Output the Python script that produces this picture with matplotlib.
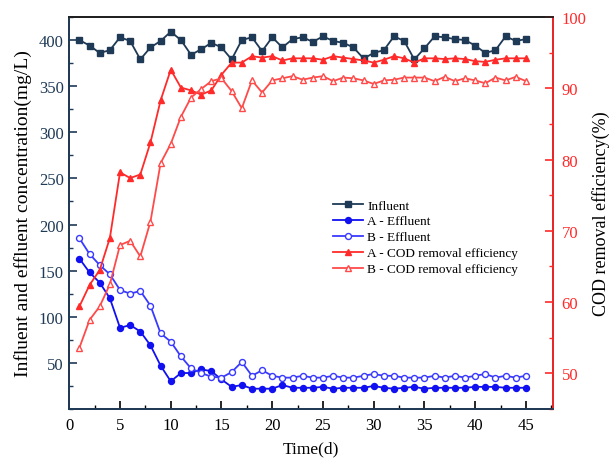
import matplotlib
matplotlib.use("Agg")
import matplotlib.pyplot as plt
from matplotlib.ticker import MultipleLocator

plt.rcParams['font.family'] = ['Liberation Serif', 'DejaVu Serif']

days = list(range(1, 46))

influent = [400, 394, 386, 389, 403, 399, 379, 392, 399, 409,
            400, 384, 390, 397, 392, 379, 400, 403, 388, 403,
            392, 401, 403, 398, 404, 399, 397, 392, 380, 386,
            389, 404, 399, 379, 391, 404, 403, 401, 400, 394,
            386, 389, 404, 399, 401]

a_effluent = [163, 148, 137, 120, 88, 91, 84, 69, 47, 30,
              39, 39, 43, 41, 32, 24, 26, 22, 22, 22,
              26, 23, 23, 23, 24, 22, 23, 23, 23, 25,
              23, 22, 23, 24, 22, 23, 23, 23, 23, 24,
              24, 24, 23, 23, 23]

b_effluent = [185, 168, 156, 146, 129, 125, 128, 112, 82, 73,
              57, 44, 39, 35, 34, 40, 51, 36, 42, 36,
              34, 34, 36, 34, 34, 36, 34, 34, 36, 38,
              36, 36, 34, 34, 34, 36, 34, 36, 34, 36,
              38, 34, 36, 34, 36]

a_cod = [59.4, 62.4, 64.5, 69.0, 78.2, 77.4, 77.9, 82.4, 88.3, 92.6,
         90.1, 89.7, 89.1, 89.7, 91.9, 93.6, 93.6, 94.5, 94.3, 94.5,
         93.9, 94.2, 94.2, 94.2, 94.0, 94.5, 94.3, 94.1, 93.9, 93.6,
         94.0, 94.5, 94.2, 93.6, 94.2, 94.2, 94.1, 94.2, 94.1, 93.8,
         93.7, 94.0, 94.2, 94.2, 94.2]

b_cod = [53.6, 57.5, 59.4, 62.5, 68.0, 68.6, 66.4, 71.3, 79.5, 82.2,
         86.0, 88.7, 89.9, 91.0, 91.4, 89.6, 87.2, 91.1, 89.4, 91.1,
         91.4, 91.7, 91.2, 91.5, 91.7, 91.0, 91.5, 91.4, 91.1, 90.6,
         91.1, 91.2, 91.5, 91.5, 91.5, 91.0, 91.6, 91.0, 91.4, 91.1,
         90.7, 91.5, 91.1, 91.6, 91.0]

navy = '#1f3a56'
blue = '#1010f0'
lblue = '#3a3aff'
red = '#ff2a2a'
lred = '#ff4a4a'

fig = plt.figure(figsize=(6.11, 4.60), dpi=100)
ax = fig.add_axes([0.1134, 0.1087, 0.9056 - 0.1134, 0.9609 - 0.1087])
ax2 = ax.twinx()

lw = 1.3
ms = 4.3
h1, = ax.plot(days, influent, '-s', color=navy, lw=lw, ms=ms, label='Influent')
h2, = ax.plot(days, a_effluent, '-o', color=blue, lw=lw, ms=ms, label='A - Effluent')
h3, = ax.plot(days, b_effluent, '-o', color=lblue, lw=lw, ms=ms,
              mfc='white', mec=lblue, label='B - Effluent')
h4, = ax2.plot(days, a_cod, '-^', color=red, lw=lw, ms=ms + 0.5, label='A - COD removal efficiency')
h5, = ax2.plot(days, b_cod, '-^', color=lred, lw=lw, ms=ms + 0.5,
               mfc='white', mec=lred, label='B - COD removal efficiency')

ax.set_xlim(0, 47.7)
ax.set_ylim(0, 425)
ax2.set_ylim(45, 100)

ax.xaxis.set_major_locator(MultipleLocator(5))
ax.xaxis.set_minor_locator(MultipleLocator(2.5))
ax.yaxis.set_minor_locator(MultipleLocator(25))
ax.set_yticks([50, 100, 150, 200, 250, 300, 350, 400])
ax2.yaxis.set_minor_locator(MultipleLocator(5))
ax2.set_yticks([50, 60, 70, 80, 90, 100])

ax.tick_params(axis='x', which='both', direction='in', colors='black', labelsize=12, pad=6)
ax.tick_params(axis='x', which='major', length=6, width=1.2)
ax.tick_params(axis='x', which='minor', length=3, width=1.0)
ax.tick_params(axis='y', which='both', direction='in', colors=navy, labelsize=12, pad=4)
ax.tick_params(axis='y', which='major', length=6, width=1.2)
ax.tick_params(axis='y', which='minor', length=3, width=1.0)
ax2.tick_params(axis='y', which='both', direction='in', colors=red, labelsize=12, pad=6)
ax2.tick_params(axis='y', which='major', length=6, width=1.2)
ax2.tick_params(axis='y', which='minor', length=3, width=1.0)

for a in (ax, ax2):
    for s in a.spines.values():
        s.set_linewidth(1.3)
ax.spines['left'].set_color(navy)
ax.spines['bottom'].set_color(navy)
ax2.spines['left'].set_color(navy)
ax2.spines['bottom'].set_color(navy)
ax2.spines['top'].set_color('#222222')
ax2.spines['right'].set_color(red)

ax.set_xlabel('Time(d)', fontsize=12.5, labelpad=5)
ax.set_ylabel('Influent and effluent concentration(mg/L)', fontsize=14, labelpad=5)
ax2.set_ylabel('COD removal efficiency(%)', fontsize=13, labelpad=4)

leg = ax2.legend(handles=[h1, h2, h3, h4, h5], loc='upper left',
                 bbox_to_anchor=(0.545, 0.535), frameon=False, fontsize=9.5,
                 handlelength=2.3, handletextpad=0.3, labelspacing=0.28,
                 borderpad=0, borderaxespad=0)

fig.savefig('out.png', dpi=100)
